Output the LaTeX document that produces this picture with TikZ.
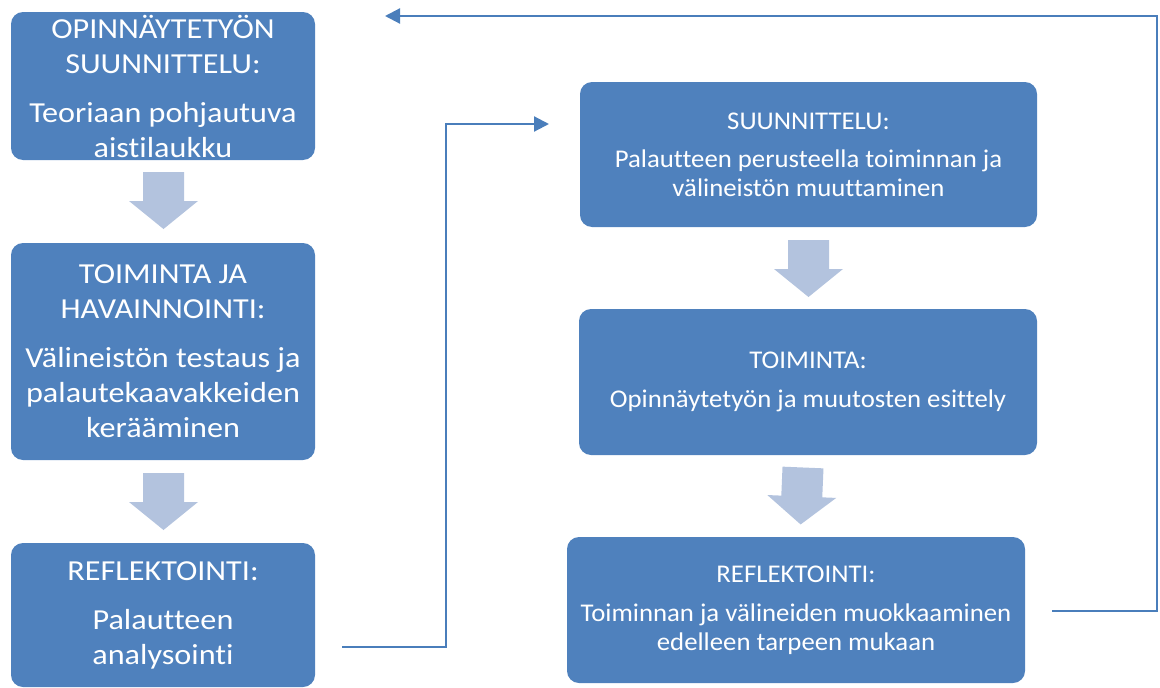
\documentclass[tikz,border=0pt]{standalone}
\usepackage{fontspec}
\setmainfont{Carlito}[Ligatures=NoCommon]
\newfontfamily\bigfont{Carlito}[FakeStretch=1.11,Ligatures=NoCommon]
\newfontfamily\smallfont{Carlito}[FakeStretch=1.05,Ligatures=NoCommon]
\usetikzlibrary{arrows.meta}
\definecolor{boxblue}{RGB}{79,129,189}
\definecolor{arrowblue}{RGB}{179,195,222}
\definecolor{lineblue}{RGB}{74,126,187}
\tikzset{
  stepbox/.style={fill=boxblue, rounded corners=12pt, text=white, align=center, inner sep=0pt},
  bigtext/.style={font=\bigfont\fontsize{29}{35}\selectfont},
  smalltext/.style={font=\smallfont\fontsize{25.5}{28.5}\selectfont},
  loopline/.style={draw=lineblue, line width=2.2pt, -{Triangle[length=15pt,width=15pt]}},
  downarrow/.pic={\fill[arrowblue] (-20.5,0) -- (20.5,0) -- (20.5,29) -- (34.5,29) -- (0,57) -- (-34.5,29) -- (-20.5,29) -- cycle;}
}
\begin{document}
\begin{tikzpicture}[x=1pt,y=-1pt]
\useasboundingbox (0,0) rectangle (1160,688);
% left column
\node[stepbox,bigtext,minimum width=304pt,minimum height=148pt] (L1) at (163,86)
  {OPINNÄYTETYÖN\\SUUNNITTELU:\\[14pt]Teoriaan pohjautuva\\aistilaukku};
\node[stepbox,bigtext,minimum width=304pt,minimum height=217pt] (L2) at (163,351.5)
  {TOIMINTA JA\\HAVAINNOINTI:\\[14pt]Välineistön testaus ja\\palautekaavakkeiden\\kerääminen};
\node[stepbox,bigtext,minimum width=304pt,minimum height=144pt] (L3) at (163,615)
  {REFLEKTOINTI:\\[14pt]Palautteen\\analysointi};
% right column
\node[stepbox,smalltext,minimum width=457pt,minimum height=145pt] (R1) at (808.5,154.5)
  {SUUNNITTELU:\\[10pt]Palautteen perusteella toiminnan ja\\välineistön muuttaminen};
\node[stepbox,smalltext,minimum width=458pt,minimum height=146pt] (R2) at (808,382)
  {TOIMINTA:\\[11pt]Opinnäytetyön ja muutosten esittely};
\node[stepbox,smalltext,minimum width=458pt,minimum height=146pt] (R3) at (796,610)
  {REFLEKTOINTI:\\[11pt]Toiminnan ja välineiden muokkaaminen\\edelleen tarpeen mukaan};
% block arrows
\pic (A1) at (163.5,172) {downarrow};
\pic (A2) at (163.5,473) {downarrow};
\pic (A3) at (808.5,240) {downarrow};
\pic[rotate=-2.4] (A4) at (803,467.5) {downarrow};
% loop connectors
\coordinate (c1a) at (342,647);
\coordinate (c1k) at (446,0);
\coordinate (c1b) at (549,124);
\draw[loopline] (c1a) -| (c1k |- c1b) -- (c1b);
\coordinate (c2a) at (1052,611);
\coordinate (c2k) at (1157,0);
\coordinate (c2b) at (385,16);
\draw[loopline] (c2a) -| (c2k |- c2b) -- (c2b);
\end{tikzpicture}
\end{document}
